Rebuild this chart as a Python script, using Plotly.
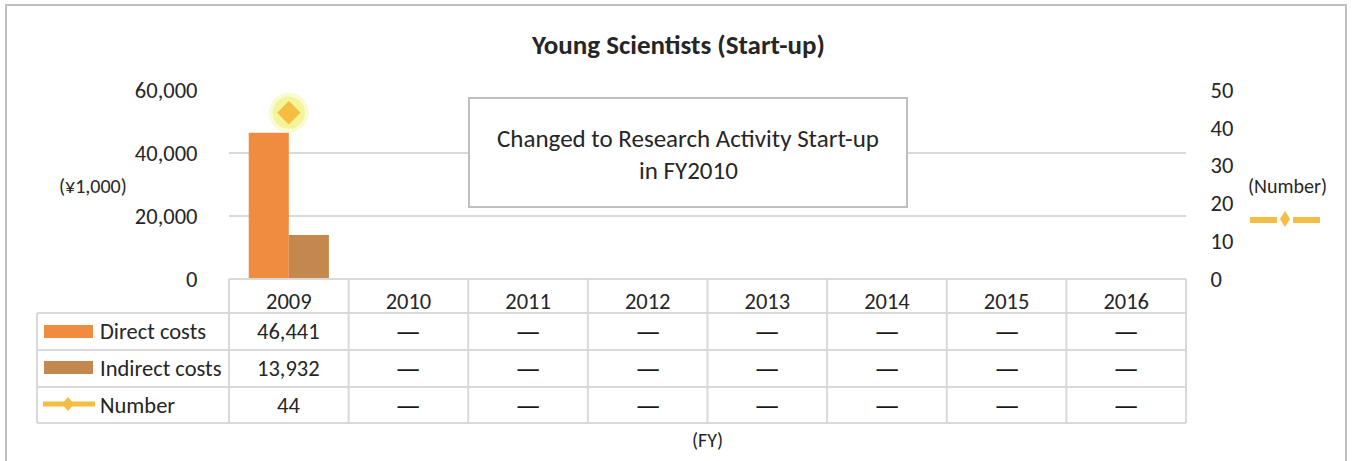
import plotly.graph_objects as go

# ---- data ----
years = ["2009", "2010", "2011", "2012", "2013", "2014", "2015", "2016"]
direct_costs = [46441, None, None, None, None, None, None, None]
indirect_costs = [13932, None, None, None, None, None, None, None]
number = [44, None, None, None, None, None, None, None]
row_labels = ["Direct costs", "Indirect costs", "Number"]

# ---- styling ----
FONT = "Carlito, Lato, sans-serif"
TXT = "#262626"
GRID = "#D9D9D9"
C_DIRECT = "#EF8C3F"
C_INDIRECT = "#C4884F"
C_NUM = "#F5BD42"
FS = 22.5

W, H = 1352, 461
PL, PR, PT, PB = 229, 1186, 90, 279


def fx(x):
    return (x - PL) / (PR - PL)


def fy(y):
    return (PB - y) / (PB - PT)


fig = go.Figure()
fig.add_trace(go.Bar(x=years, y=direct_costs, name="Direct costs", marker_color=C_DIRECT,
                     marker_line_width=0))
fig.add_trace(go.Bar(x=years, y=indirect_costs, name="Indirect costs", marker_color=C_INDIRECT,
                     marker_line_width=0))
# glow behind marker
fig.add_trace(go.Scatter(x=years, y=number, yaxis="y2", mode="markers",
                         marker=dict(symbol="circle", size=40, color="rgba(240,240,130,0.35)",
                                     line_width=0), hoverinfo="skip"))
fig.add_trace(go.Scatter(x=years, y=number, yaxis="y2", mode="markers",
                         marker=dict(symbol="circle", size=32, color="rgba(238,238,110,0.55)",
                                     line_width=0), hoverinfo="skip"))
fig.add_trace(go.Scatter(x=years, y=number, yaxis="y2", mode="lines+markers", name="Number",
                         line=dict(color=C_NUM, width=4),
                         marker=dict(symbol="diamond", size=18, color=C_NUM, line_width=0)))

shapes = []
line_style = dict(color=GRID, width=2)


def hline(x0, x1, y):
    shapes.append(dict(type="line", xref="paper", yref="paper", x0=fx(x0), x1=fx(x1),
                       y0=fy(y), y1=fy(y), line=line_style, layer="above"))


def vline(x, y0, y1):
    shapes.append(dict(type="line", xref="paper", yref="paper", x0=fx(x), x1=fx(x),
                       y0=fy(y0), y1=fy(y1), line=line_style, layer="above"))


# outer border
shapes.append(dict(type="rect", xref="paper", yref="paper", x0=fx(6), x1=fx(1346),
                   y0=fy(470), y1=fy(5), line=dict(color="#BFBFBF", width=2), layer="below"))

# data table grid
row_y = [279, 313, 350, 387, 423]
hline(PL, PR, row_y[0])
for y in row_y[1:]:
    hline(37, PR, y)
vline(37, 313, 423)
ncat = len(years)
for i in range(ncat + 1):
    vline(PL + i * (PR - PL) / ncat, 279, 423)

# text box
shapes.append(dict(type="rect", xref="paper", yref="paper", x0=fx(469), x1=fx(907),
                   y0=fy(207), y1=fy(98), line=dict(color="#BFBFBF", width=2),
                   fillcolor="white", layer="above"))

# legend keys in table
shapes.append(dict(type="rect", xref="paper", yref="paper", x0=fx(44), x1=fx(93),
                   y0=fy(338), y1=fy(325), line_width=0, fillcolor=C_DIRECT))
shapes.append(dict(type="rect", xref="paper", yref="paper", x0=fx(44), x1=fx(93),
                   y0=fy(374), y1=fy(361), line_width=0, fillcolor=C_INDIRECT))
shapes.append(dict(type="line", xref="paper", yref="paper", x0=fx(43), x1=fx(95),
                   y0=fy(404), y1=fy(404), line=dict(color=C_NUM, width=5)))


def diamond(cx, cy, hw, hh):
    return dict(type="path", xref="paper", yref="paper",
                path=f"M {fx(cx-hw)} {fy(cy)} L {fx(cx)} {fy(cy-hh)} L {fx(cx+hw)} {fy(cy)} "
                     f"L {fx(cx)} {fy(cy+hh)} Z",
                fillcolor=C_NUM, line_width=0)


shapes.append(diamond(68, 404, 6, 7))

# right-side legend key for Number
shapes.append(dict(type="line", xref="paper", yref="paper", x0=fx(1250), x1=fx(1277),
                   y0=fy(220), y1=fy(220), line=dict(color=C_NUM, width=6)))
shapes.append(dict(type="line", xref="paper", yref="paper", x0=fx(1293), x1=fx(1320),
                   y0=fy(220), y1=fy(220), line=dict(color=C_NUM, width=6)))
shapes.append(diamond(1285, 219, 5, 8))

annotations = []


def text(x, y, s, size=FS, xanchor="center", bold=False, color=TXT):
    annotations.append(dict(xref="paper", yref="paper", x=fx(x), y=fy(y),
                            text=f"<b>{s}</b>" if bold else s,
                            showarrow=False, xanchor=xanchor, yanchor="middle",
                            font=dict(family=FONT, size=size, color=color)))


text(678, 45, "Young Scientists (Start-up)", size=27, bold=True)
text(688, 138, "Changed to Research Activity Start-up", size=25)
text(688, 170, "in FY2010", size=25)
text(93, 186, "(¥1,000)", size=20)
text(1287, 186, "(Number)", size=20)
text(707, 440, "(FY)", size=20)

row_centers = [331, 368, 405]
for lbl, yc in zip(row_labels, row_centers):
    text(98, yc, lbl, xanchor="left")

series = [direct_costs, indirect_costs, number]
for vals, yc in zip(series, row_centers):
    for i, v in enumerate(vals):
        cx = PL + (i + 0.5) * (PR - PL) / ncat
        if v is not None:
            text(cx, yc, f"{v:,}")
        else:
            text(cx, yc, "—", size=29, color="#1a1a1a")

fig.update_layout(
    width=W, height=H,
    margin=dict(l=PL, r=W - PR, t=PT, b=H - PB, pad=0),
    paper_bgcolor="white", plot_bgcolor="white",
    barmode="group", bargap=0.33, bargroupgap=0,
    showlegend=False,
    font=dict(family=FONT, size=FS, color=TXT),
    xaxis=dict(type="category", range=[-0.5, ncat - 0.5], showline=False, showgrid=False,
               zeroline=False, ticks="outside", ticklen=2, tickcolor="rgba(0,0,0,0)",
               tickfont=dict(family=FONT, size=FS, color=TXT)),
    yaxis=dict(range=[0, 60000], dtick=20000, tickformat=",", showgrid=True,
               gridcolor=GRID, gridwidth=2, zeroline=False, showline=False,
               ticks="outside", ticklen=26, tickcolor="rgba(0,0,0,0)",
               tickfont=dict(family=FONT, size=FS, color=TXT)),
    yaxis2=dict(range=[0, 50], dtick=10, overlaying="y", side="right", showgrid=False,
                zeroline=False, showline=False, ticks="outside", ticklen=19,
                tickcolor="rgba(0,0,0,0)", tickfont=dict(family=FONT, size=FS, color=TXT)),
    shapes=shapes, annotations=annotations,
)

fig.write_html("out.html", config={"displayModeBar": False},
               post_script="document.body.style.margin='0';")
